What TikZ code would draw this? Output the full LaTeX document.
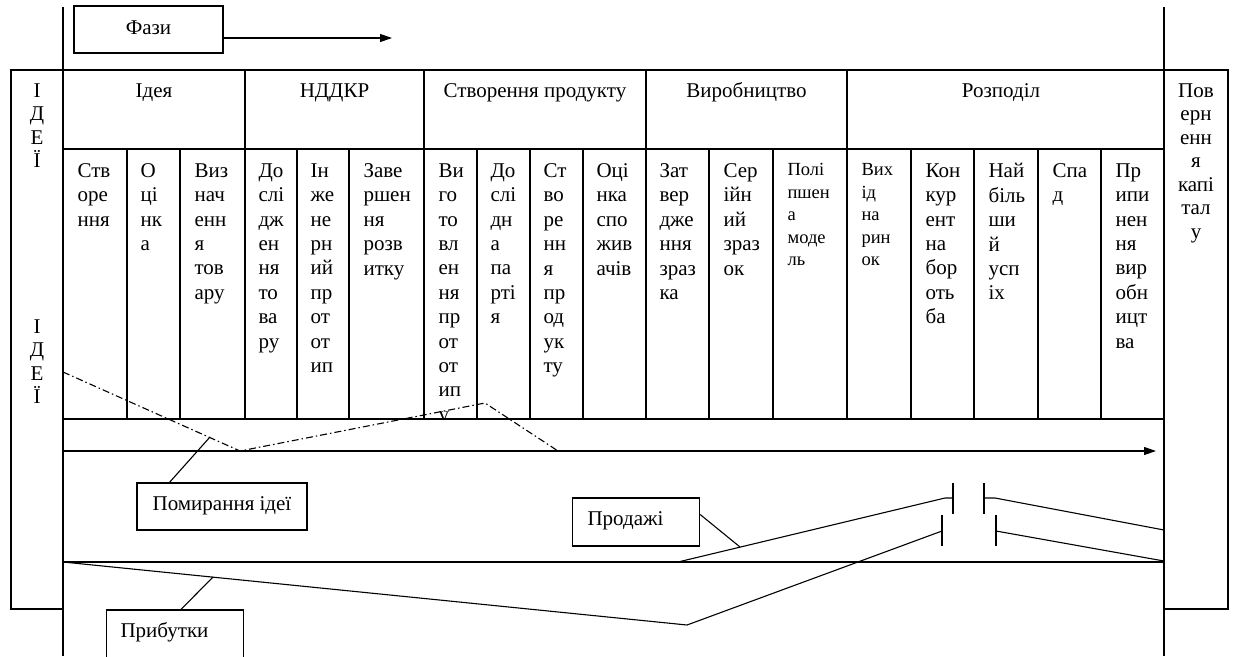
\documentclass[tikz,border=0pt]{standalone}
\usepackage{fontspec}
\setmainfont{Liberation Serif}
\usetikzlibrary{arrows.meta}

\begin{document}
\begin{tikzpicture}[x=1pt, y=-1pt, line width=1.1pt, >={Stealth[length=12pt, width=8pt, inset=0pt]},
  every node/.style={inner sep=0pt, font=\fontsize{21}{24.4}\selectfont},
  head/.style={anchor=base},
  cell/.style={anchor=north west, align=left},
  small/.style={font=\fontsize{18.5}{22.5}\selectfont},
  side/.style={anchor=north, align=center, font=\fontsize{21}{23.5}\selectfont},
  tagbox/.style={draw, inner ysep=0pt, text height=27pt}]
  \useasboundingbox (0,0) rectangle (1234,656);

  \draw (63,7) -- (63,656);
  \draw (1164,7) -- (1164,656);
  \draw (11,70) rectangle (63,609);
  \draw (1164,70) rectangle (1228,609);
  \draw (63,70) -- (1164,70);
  \draw (63,149) -- (1164,149);
  \draw (63,419) -- (1164,419);
  \draw (63,562) -- (1164,562);
  \foreach \x in {245,424,646,847} \draw (\x,70) -- (\x,419);
  \foreach \x in {127,180,297,349,477,530,583,709,773,911,974,1038,1101} \draw (\x,149) -- (\x,419);

  \node[side] (idea1) at (37,83) {І\\Д\\Е\\Ї};
  \node[side] (idea2) at (37,319) {І\\Д\\Е\\Ї};
  \node[side] (back) at (1196,83) {Пов\\ерн\\енн\\я\\капі\\тал\\у};

  \node[head] (idea) at (154,97) {Ідея};
  \node[head] (rnd) at (334.5,97) {НДДКР};
  \node[head] (make) at (535,97) {Створення продукту};
  \node[head] (prod) at (746.5,97) {Виробництво};
  \node[head] (distr) at (1001,97) {Розподіл};

  \node[cell] (s1) at (77,163) {Ств\\оре\\ння};
  \node[cell] (s2) at (140,163) {О\\ці\\нк\\а};
  \node[cell] (s3) at (194,163) {Виз\\нач\\енн\\я\\тов\\ару};
  \node[cell] (s4) at (258,163) {До\\слі\\дж\\ен\\ня\\то\\ва\\ру};
  \node[cell] (s5) at (310,163) {Ін\\же\\не\\рн\\ий\\пр\\от\\от\\ип};
  \node[cell] (s6) at (363,163) {Заве\\ршен\\ня\\розв\\итку};
  \begin{scope}
    \clip (424,149) rectangle (477,417);
    \node[cell] (s7) at (438,163) {Ви\\го\\то\\вл\\ен\\ня\\пр\\от\\от\\ип\\у};
  \end{scope}
  \node[cell] (s8) at (490,163) {До\\слі\\дн\\а\\па\\рті\\я};
  \node[cell] (s9) at (543,163) {Ст\\во\\ре\\нн\\я\\пр\\од\\ук\\ту};
  \node[cell] (s10) at (596,163) {Оці\\нка\\спо\\жив\\ачів};
  \node[cell] (s11) at (659,163) {Зат\\вер\\дже\\ння\\зраз\\ка};
  \node[cell] (s12) at (723,163) {Сер\\ійн\\ий\\зраз\\ок};
  \node[cell, small] (s13) at (787,163) {Полі\\пшен\\а\\моде\\ль};
  \node[cell, small] (s14) at (861,163) {Вих\\ід\\на\\рин\\ок};
  \node[cell] (s15) at (925,163) {Кон\\кур\\ент\\на\\бор\\оть\\ба};
  \node[cell] (s16) at (988,163) {Най\\біль\\ши\\й\\усп\\іх};
  \node[cell] (s17) at (1052,163) {Спа\\д};
  \node[cell] (s18) at (1115,163) {Пр\\ипи\\нен\\ня\\вир\\обн\\ицт\\ва};

  \node[tagbox, anchor=base, minimum width=149pt, text depth=19pt, text height=28pt] (phases) at (148.5,34) {Фази};
  \coordinate (phasesend) at (392,38);
  \draw[->] (phasesend -| phases.east) -- (phasesend);

  \coordinate (t0) at (63,451);
  \coordinate (t1) at (1156,451);
  \draw[->] (t0) -- (t1);

  \coordinate (d0) at (63,372);
  \coordinate (d1) at (240,451);
  \coordinate (d2) at (485,403);
  \coordinate (d3) at (558,451);
  \draw[dash pattern=on 7pt off 3pt on 1.5pt off 3pt] (d0) -- (d1) -- (d2) -- (d3);

  \node[tagbox, anchor=base, minimum width=170pt, text depth=20pt] (death) at (222,510) {Помирання ідеї};
  \coordinate (deathpt) at (210,437);
  \draw (death.north west) ++(33,0) -- (deathpt);

  \coordinate (u0) at (678,562);
  \coordinate (u1) at (945,498);
  \coordinate (u2) at (953,498);
  \coordinate (u3) at (984,498);
  \coordinate (u4) at (995,498);
  \coordinate (u5) at (1164,530);
  \draw (u0) -- (u1) -- (u2);
  \draw (u2) ++(0,-15) -- ++(0,31);
  \draw (u3) ++(0,-15) -- ++(0,31);
  \draw (u3) -- (u4) -- (u5);

  \coordinate (p0) at (63,562);
  \coordinate (p1) at (687,625);
  \coordinate (p2) at (942,531);
  \coordinate (p3) at (996,531);
  \coordinate (p4) at (1164,561);
  \draw (p0) -- (p1) -- (p2);
  \draw (p2) ++(0,-16) -- ++(0,31);
  \draw (p3) ++(0,-16) -- ++(0,31);
  \draw (p3) -- (p4);

  \node[tagbox, anchor=base west, inner xsep=15pt, text width=97pt, align=left, text depth=21pt] (sales) at (572,525) {Продажі};
  \coordinate (salespt) at (740,547);
  \draw (sales.north east) ++(0,17) -- (salespt);

  \node[tagbox, anchor=base west, inner xsep=14pt, text width=109pt, align=left, text depth=33pt] (profit) at (106,637) {Прибутки};
  \coordinate (profitpt) at (213,577);
  \draw (profit.north west) ++(75,0) -- (profitpt);
\end{tikzpicture}
\end{document}
